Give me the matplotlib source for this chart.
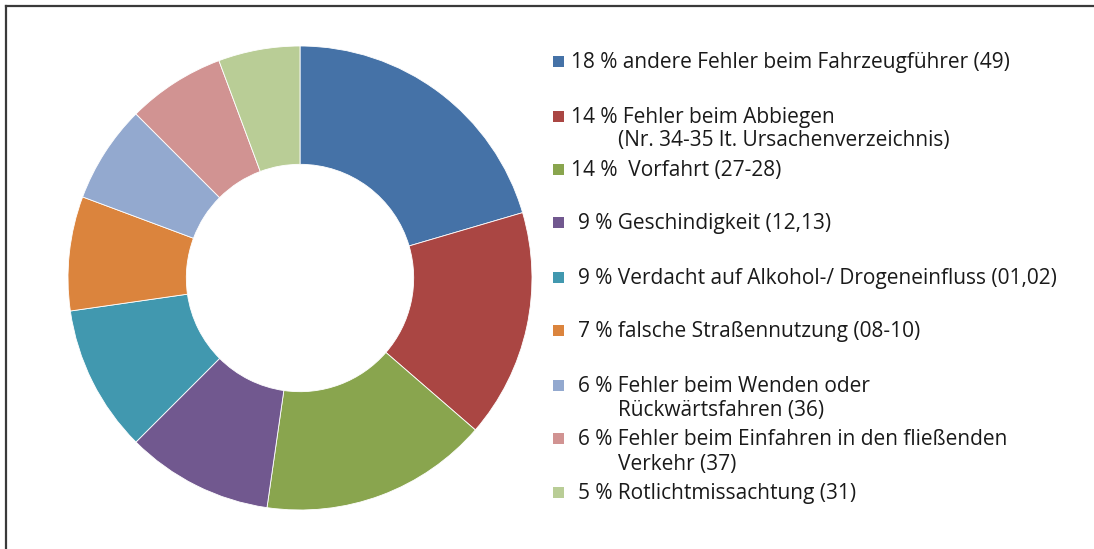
import matplotlib.pyplot as plt
from matplotlib.patches import Rectangle
from matplotlib.lines import Line2D

plt.rcParams["font.family"] = ["Open Sans", "DejaVu Sans"]

# Anteile der Unfallursachen in %
anteile = [18, 14, 14, 9, 9, 7, 6, 6, 5]
beschriftung = [
    ["andere Fehler beim Fahrzeugführer (49)"],
    ["Fehler beim Abbiegen", "(Nr. 34-35 lt. Ursachenverzeichnis)"],
    [" Vorfahrt (27-28)"],
    ["Geschindigkeit (12,13)"],
    ["Verdacht auf Alkohol-/ Drogeneinfluss (01,02)"],
    ["falsche Straßennutzung (08-10)"],
    ["Fehler beim Wenden oder", "Rückwärtsfahren (36)"],
    ["Fehler beim Einfahren in den fließenden", "Verkehr (37)"],
    ["Rotlichtmissachtung (31)"],
]
farben = ["#4572A7", "#AA4643", "#89A54E", "#71588F", "#4198AF",
          "#DB843D", "#93A9CF", "#D19392", "#B9CD96"]

W, H = 1094, 549
fig = plt.figure(figsize=(W / 100, H / 100), dpi=100)

# Donut
cx, cy, r = 300, 278, 232
ax = fig.add_axes([(cx - r) / W, (H - cy - r) / H, 2 * r / W, 2 * r / H])
ax.pie(anteile, colors=farben, startangle=90, counterclock=False,
       radius=1, wedgeprops=dict(width=0.51, edgecolor="white", linewidth=0.6))
ax.set_xlim(-1, 1)
ax.set_ylim(-1, 1)
ax.set_aspect("equal")
ax.axis("off")

# Legende (von Hand, wie in Excel)
zeilen_y = [[61], [116, 139], [169], [222], [277], [330], [385, 409], [438, 463], [492]]
for i in range(len(anteile)):
    ys = zeilen_y[i]
    fig.add_artist(Rectangle(((553) / W, 1 - (ys[0] + 6) / H), 11 / W, 11 / H,
                             transform=fig.transFigure, color=farben[i], lw=0))
    x0 = 571 if anteile[i] >= 10 else 578
    fig.text(x0 / W, 1 - (ys[0] + 1.5) / H, str(anteile[i]) + " % " + beschriftung[i][0],
             fontsize=15, va="center", ha="left", color="#1a1a1a")
    for k in range(1, len(beschriftung[i])):
        fig.text(618 / W, 1 - (ys[k] + 1.5) / H, beschriftung[i][k],
                 fontsize=15, va="center", ha="left", color="#1a1a1a")

# Rahmen oben und links
fig.add_artist(Line2D([6 / W, 1.0], [1 - 6 / H, 1 - 6 / H], transform=fig.transFigure,
                      color="#3a3a3a", lw=1.6))
fig.add_artist(Line2D([6 / W, 6 / W], [0.0, 1 - 6 / H], transform=fig.transFigure,
                      color="#3a3a3a", lw=1.6))

fig.savefig("out.png", dpi=100)
